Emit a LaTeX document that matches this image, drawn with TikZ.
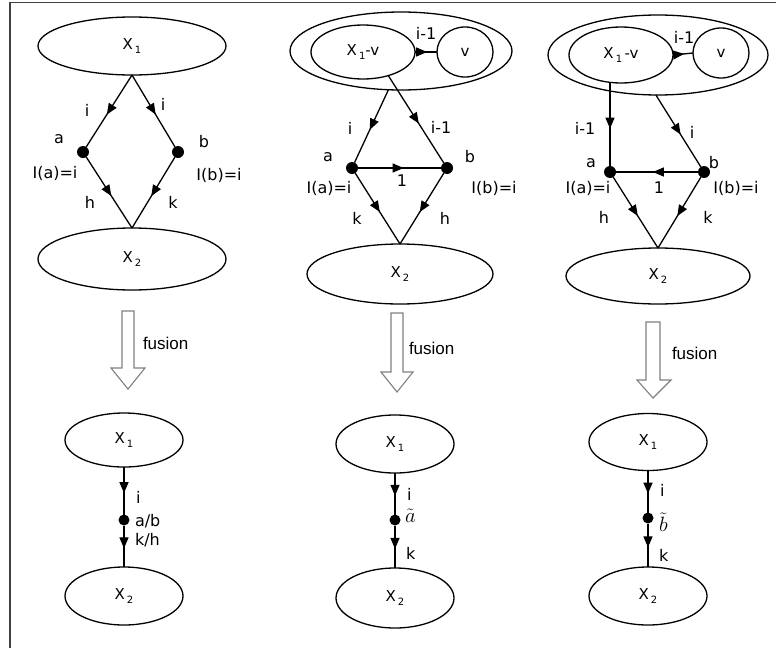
\documentclass[tikz,border=0pt]{standalone}
\usepackage{fontspec}
\setmainfont{DejaVu Sans}
\newfontfamily\fusfont{Liberation Sans}
\usetikzlibrary{shapes.geometric,arrows.meta,decorations.markings}
\newcommand\Xsub[1]{X\kern2pt\raisebox{-3.5pt}{\fontsize{10}{12}\selectfont #1}}
\begin{document}
\begin{tikzpicture}[x=1pt,y=-1pt,
  line width=1.3pt,
  every node/.style={inner sep=0pt, outer sep=0pt},
  ell/.style={draw, ellipse, inner sep=0pt, font=\fontsize{15}{17}\selectfont},
  dot/.style={circle, fill=black, minimum size=12pt},
  sdot/.style={circle, fill=black, minimum size=11pt},
  lbl/.style={font=\fontsize{16}{18}\selectfont},
  tlbl/.style={font=\fontsize{20.74}{24}\selectfont},
  fuslbl/.style={font=\fusfont\fontsize{17}{19}\selectfont, anchor=west},
  midarrow/.style={postaction={decorate}, decoration={markings, mark=at position 0.55 with {\arrow{Triangle[length=11pt,width=9pt]}}}},
  fus/.style={draw=black!50, line width=1.1pt, fill=white, line join=miter},
]
\useasboundingbox (0,0) rectangle (776,648);
\fill[white] (0,0) rectangle (776,648);
% frame
\draw[line width=1.5pt, black!75] (10,648) -- (10,2.5) -- (776,2.5);

% ---------------- Panel 1 ----------------
\node[ell, minimum width=188pt, minimum height=58pt] (X1a) at (132,46) {\Xsub{1}};
\node[ell, minimum width=188pt, minimum height=62pt] (X2a) at (132,259) {\Xsub{2}};
\node[dot] (a1) at (83,152) {};
\node[dot] (b1) at (178,152) {};
\draw[midarrow] (X1a.south) -- (a1);
\draw[midarrow] (X1a.south) -- (b1);
\draw[midarrow] (a1) -- (X2a.north);
\draw[midarrow] (b1) -- (X2a.north);
\node[lbl] (l1i) at (87,110) {i};
\node[lbl] (l1j) at (163,104) {i};
\node[lbl] (l1a) at (59,139) {a};
\node[lbl] (l1b) at (204,142) {b};
\node[lbl] (l1ia) at (55,173) {I(a)=i};
\node[lbl] (l1ib) at (219,175) {I(b)=i};
\node[lbl] (l1h) at (90,202) {h};
\node[lbl] (l1k) at (173,202) {k};

% ---------------- Panel 2 ----------------
\node[ell, minimum width=222pt, minimum height=78pt] (big2) at (401,51) {};
\node[ell, minimum width=104pt, minimum height=54pt] (X1v2) at (363,52) {\Xsub{1}-v};
\node[ell, minimum width=56pt, minimum height=50pt] (v2) at (465,52) {v};
\node[ell, minimum width=186pt, minimum height=60pt] (X2b) at (400,274) {\Xsub{2}};
\node[dot] (a2) at (352,168) {};
\node[dot] (b2) at (447,168) {};
\draw[midarrow] (X1v2.east) -- (v2.west);
\draw[midarrow] (big2.-108) -- (a2);
\draw[midarrow] (X1v2.-43) -- (b2);
\draw[midarrow] (a2) -- (b2);
\draw[midarrow] (a2) -- (X2b.north);
\draw[midarrow] (b2) -- (X2b.north);
\node[lbl] (l2v) at (426,33) {i-1};
\node[lbl] (l2i) at (350,128) {i};
\node[lbl] (l2j) at (441,127) {i-1};
\node[lbl] (l2a) at (328,157) {a};
\node[lbl] (l2b) at (470,157) {b};
\node[lbl] (l2ia) at (329,188) {I(a)=i};
\node[lbl] (l2one) at (402,181) {1};
\node[lbl] (l2ib) at (494,188) {I(b)=i};
\node[lbl] (l2k) at (357,218) {k};
\node[lbl] (l2h) at (445,218) {h};

% ---------------- Panel 3 ----------------
\node[ell, minimum width=220pt, minimum height=80pt] (big3) at (658,55) {};
\node[ell, minimum width=104pt, minimum height=56pt] (X1v3) at (621,55) {\Xsub{1}\,-v};
\node[ell, minimum width=56pt, minimum height=50pt] (v3) at (721,53) {v};
\node[ell, minimum width=184pt, minimum height=56pt] (X2c) at (658,276) {\Xsub{2}};
\node[dot] (a3) at (610,172) {};
\node[dot] (b3) at (704,172) {};
\draw[midarrow] (X1v3.east) -- (v3.west);
\draw[midarrow] (X1v3.south -| a3) -- (a3);
\draw[midarrow] (big3.-93) -- (b3);
\draw[midarrow] (b3) -- (a3);
\draw[midarrow] (a3) -- (X2c.north);
\draw[midarrow] (b3) -- (X2c.north);
\node[lbl] (l3v) at (684,37) {i-1};
\node[lbl] (l3j) at (585,128) {i-1};
\node[lbl] (l3i) at (692,132) {i};
\node[lbl] (l3a) at (591,163) {a};
\node[lbl] (l3b) at (714,163) {b};
\node[lbl] (l3ia) at (588,188) {I(a)=i};
\node[lbl] (l3one) at (659,188) {1};
\node[lbl] (l3ib) at (736,188) {I(b)=i};
\node[lbl] (l3h) at (604,217) {h};
\node[lbl] (l3k) at (708,217) {k};

% ---------------- fusion arrows ----------------
\draw[fus] (122,311) -- (134,311) -- (134,368) -- (145,368) -- (128,389) -- (111,368) -- (122,368) -- cycle;
\node[fuslbl] (f1) at (143,343) {fusion};
\draw[fus] (391,313) -- (403,313) -- (403,372) -- (413,372) -- (397,392) -- (381,372) -- (391,372) -- cycle;
\node[fuslbl] (f2) at (409,348) {fusion};
\draw[fus] (646,322) -- (660,322) -- (660,380) -- (671,380) -- (653,398) -- (637,380) -- (646,380) -- cycle;
\node[fuslbl] (f3) at (672,353) {fusion};

% ---------------- Bottom panel 1 ----------------
\node[ell, minimum width=118pt, minimum height=54pt] (X1d) at (124,440) {\Xsub{1}};
\node[ell, minimum width=118pt, minimum height=58pt] (X2d) at (124,596) {\Xsub{2}};
\node[sdot] (c1) at (124,520) {};
\draw[midarrow] (X1d.south) -- (c1);
\draw[midarrow] (c1) -- (X2d.north);
\node[lbl, anchor=west] (m1i) at (136,497) {i};
\node[lbl, anchor=west] (m1ab) at (135,521) {a/b};
\node[lbl, anchor=west] (m1kh) at (135,540) {k/h};

% ---------------- Bottom panel 2 ----------------
\node[ell, minimum width=118pt, minimum height=58pt] (X1e) at (395,444) {\Xsub{1}};
\node[ell, minimum width=118pt, minimum height=60pt] (X2e) at (395,598) {\Xsub{2}};
\node[sdot] (c2) at (395,520) {};
\draw[midarrow] (X1e.south) -- (c2);
\draw[midarrow] (c2) -- (X2e.north);
\node[lbl, anchor=west] (m2i) at (407,494) {i};
\node[tlbl, anchor=west] (m2a) at (405,516) {$\tilde{a}$};
\node[lbl, anchor=west] (m2k) at (406,553) {k};

% ---------------- Bottom panel 3 ----------------
\node[ell, minimum width=118pt, minimum height=57pt] (X1f) at (648,442) {\Xsub{1}};
\node[ell, minimum width=118pt, minimum height=58pt] (X2f) at (648,596) {\Xsub{2}};
\node[sdot] (c3) at (648,518) {};
\draw[midarrow] (X1f.south) -- (c3);
\draw[midarrow] (c3) -- (X2f.north);
\node[lbl, anchor=west] (m3i) at (660,490) {i};
\node[tlbl, anchor=west] (m3b) at (659,522) {$\tilde{b}$};
\node[lbl, anchor=west] (m3k) at (659,555) {k};
\end{tikzpicture}
\end{document}
